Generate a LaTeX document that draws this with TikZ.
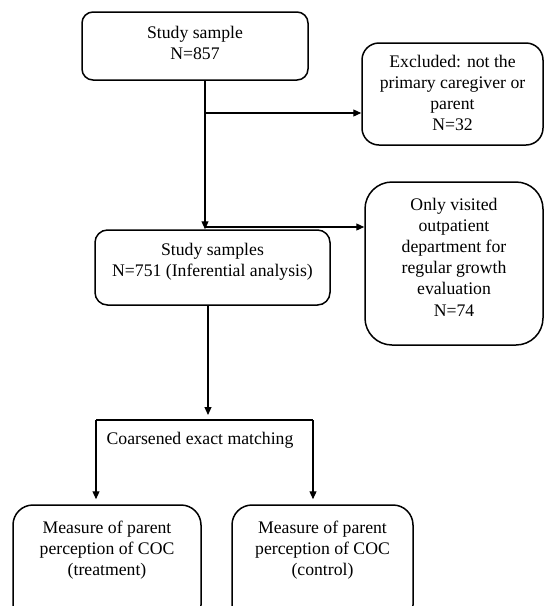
\documentclass[tikz,border=0pt]{standalone}
\usepackage{fontspec}
\setmainfont{Liberation Serif}
\usetikzlibrary{arrows.meta,positioning}

\begin{document}
\begin{tikzpicture}[x=1pt,y=-1pt,>={Triangle[length=8pt,width=7pt]},line width=1.2pt,
                    flowbox/.style={draw,line width=1.5pt,inner sep=0pt},
                    flowtext/.style={align=center,inner sep=0pt,
                                     font=\fontsize{17.7}{21.2}\selectfont}]
  \useasboundingbox (0,0) rectangle (544,606);
  \clip (0,0) rectangle (544,606);

  % boxes
  \node[flowbox,rounded corners=11pt,minimum width=226pt,minimum height=68pt]    (sample)  at (195,46)      {};
  \node[flowbox,rounded corners=17pt,minimum width=181pt,minimum height=102pt]   (excl)    at (452.5,94)    {};
  \node[flowbox,rounded corners=27pt,minimum width=178pt,minimum height=163pt]   (visit)   at (454,263.5)   {};
  \node[flowbox,rounded corners=12.5pt,minimum width=235pt,minimum height=75pt]  (samples) at (212.5,267.5) {};
  \node[flowbox,rounded corners=20pt,minimum width=188pt,minimum height=120pt]   (treat)   at (107,565)     {};
  \node[flowbox,rounded corners=20pt,minimum width=181pt,minimum height=120pt]   (control) at (322.5,565)   {};

  % texts
  \node[flowtext] (sampletext)  [below=14pt of sample.north]  {Study sample\\N=857};
  \node[flowtext] (excltext)    [below=12pt of excl.north]    {Excluded: not the\\primary caregiver or\\parent\\N=32};
  \node[flowtext] (visittext)   [below=16pt of visit.north]   {Only visited\\outpatient\\department for\\regular growth\\evaluation\\N=74};
  \node[flowtext] (samplestext) [below=13pt of samples.north] {Study samples\\N=751 (Inferential analysis)};
  \node[flowtext] (treattext)   [below=16pt of treat.north]   {Measure of parent\\perception of COC\\(treatment)};
  \node[flowtext] (controltext) [below=16pt of control.north] {Measure of parent\\perception of COC\\(control)};
  \node[flowtext] (cemtext) at (200,440) {Coarsened exact matching};

  \coordinate (fork1) at (205,113);
  \coordinate (fork2) at (205,227);
  \coordinate (split) at (208,420);
  \coordinate (cemleft) at (96,420);
  \coordinate (cemright) at (313,420);

  \draw[->] (sample.south -| fork1) -- (fork1 |- samples.north);
  \draw[->] (fork1) -- (fork1 -| excl.west);
  \draw[->] (fork2) -- (fork2 -| visit.west);
  \draw[->,shorten >=5pt] (samples.south -| split) -- (split);
  \draw (cemleft) -- (cemright);
  \draw[->,shorten >=5pt] (cemleft) -- (cemleft |- treat.north);
  \draw[->,shorten >=5pt] (cemright) -- (cemright |- control.north);
\end{tikzpicture}
\end{document}
